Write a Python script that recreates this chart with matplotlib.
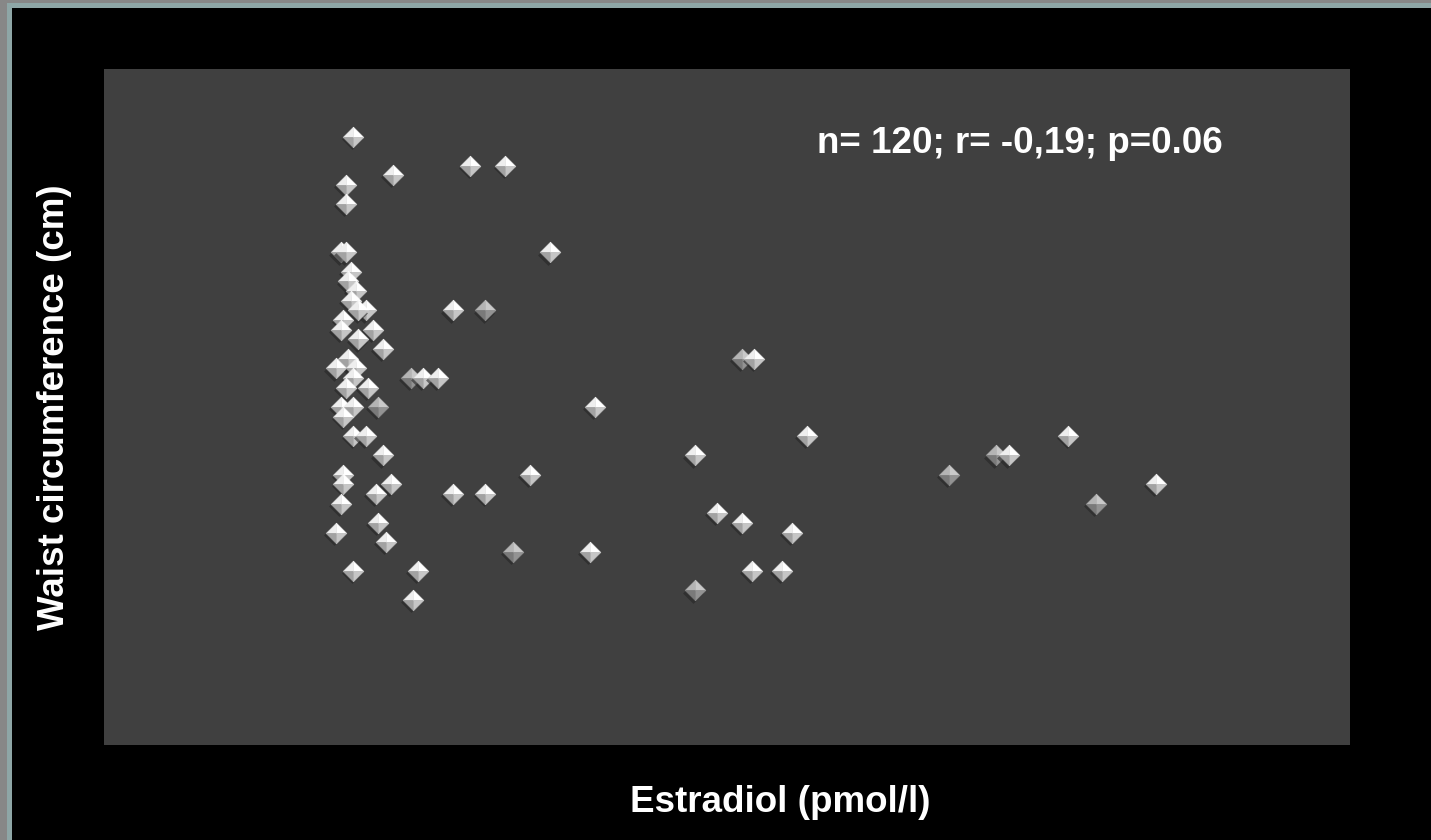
import numpy as np
import matplotlib.pyplot as plt
from matplotlib.path import Path
from matplotlib.patches import Rectangle
from matplotlib.transforms import ScaledTranslation

# Estradiol (pmol/l) vs waist circumference (cm), one entry per visible subject
estradiol = [100, 97, 97, 116, 147, 161, 179, 95, 97, 99,
             98, 101, 99, 105, 102, 96, 95, 108, 102, 112,
             98, 93, 101, 100, 97, 106, 123, 128, 134, 95,
             100, 110, 96, 100, 105, 112, 96, 96, 115, 109,
             95, 110, 93, 113, 100, 126, 124, 140, 153, 140,
             153, 171, 164, 195, 197, 237, 237, 246, 256, 276,
             260, 272, 256, 261, 282, 339, 358, 363, 387, 398,
             422]
waist = [113, 108, 106, 109, 110, 110, 101, 101, 101, 99,
         98, 97, 96, 95, 95, 94, 93, 93, 92, 91,
         90, 89, 89, 88, 87, 87, 88, 88, 88, 85,
         85, 85, 84, 82, 82, 80, 78, 77, 77, 76,
         75, 73, 72, 71, 68, 68, 65, 95, 95, 76,
         76, 78, 70, 70, 85, 80, 66, 74, 73, 72,
         68, 68, 90, 90, 82, 78, 80, 80, 82, 75,
         77]
# subjects drawn with the darker shading
darker = {26, 31, 48, 52, 56, 62, 65, 66, 69}

stat_text = 'n= 120; r= -0,19; p=0.06'

plt.rcParams['font.family'] = ['Liberation Sans', 'DejaVu Sans']

fig = plt.figure(figsize=(14.31, 8.4), dpi=100, facecolor='black')

# frame strips on the left and top edges
fig.patches.append(Rectangle((0, 0), 7 / 1431, 1, transform=fig.transFigure,
                             facecolor='#878787', edgecolor='none', zorder=-5))
fig.patches.append(Rectangle((7 / 1431, 0), 5 / 1431, 1 - 3 / 840, transform=fig.transFigure,
                             facecolor='#8ea6a6', edgecolor='none', zorder=-4))
fig.patches.append(Rectangle((0, 1 - 3 / 840), 1, 3 / 840, transform=fig.transFigure,
                             facecolor='#878787', edgecolor='none', zorder=-5))
fig.patches.append(Rectangle((7 / 1431, 1 - 8 / 840), 1, 5 / 840, transform=fig.transFigure,
                             facecolor='#8ea6a6', edgecolor='none', zorder=-4))

ax = fig.add_axes([104 / 1431, 1 - 745 / 840, 1246 / 1431, 676 / 840])
ax.set_facecolor('#404040')
ax.set_xlim(0, 500)
ax.set_ylim(50, 120)
ax.set_xticks([])
ax.set_yticks([])
for sp in ax.spines.values():
    sp.set_visible(False)

# pyramid-like diamond built from four facets
facets = [
    Path([(0, 0), (-1, 0), (0, 1), (0, 0)]),   # top left
    Path([(0, 0), (0, 1), (1, 0), (0, 0)]),    # top right
    Path([(0, 0), (-1, 0), (0, -1), (0, 0)]),  # bottom left
    Path([(0, 0), (1, 0), (0, -1), (0, 0)]),   # bottom right
]
diamond = Path([(0, 1), (1, 0), (0, -1), (-1, 0), (0, 1)])
light_cols = ['#eeeeee', '#ffffff', '#a2a2a2', '#c6c6c6']
dark_cols = ['#b4b4b4', '#c9c9c9', '#7a7a7a', '#939393']

size = 225
shadow = ax.transData + ScaledTranslation(-1.2 / 72, -1.6 / 72, fig.dpi_scale_trans)

for i, (x, y) in enumerate(zip(estradiol, waist)):
    cols = dark_cols if i in darker else light_cols
    ax.scatter([x], [y], s=size, marker=diamond, color='#262626', alpha=0.6,
               linewidths=0, transform=shadow, zorder=2 + i * 0.01)
    for path, c in zip(facets, cols):
        ax.scatter([x], [y], s=size, marker=path, color=c, linewidths=0.3,
                   edgecolors=c, zorder=2.005 + i * 0.01)

ax.text(0.5722, 0.8905, stat_text, transform=ax.transAxes, ha='left', va='center',
        fontsize=26.5, fontweight='bold', color='white')

fig.text(780 / 1431, 1 - 802 / 840, 'Estradiol (pmol/l)', ha='center', va='center',
         fontsize=26.5, fontweight='bold', color='white')
fig.text(55 / 1431, 1 - 407 / 840, 'Waist circumference (cm)', ha='center', va='center',
         rotation=90, fontsize=26.5, fontweight='bold', color='white')

fig.savefig('out.png', dpi=100, facecolor='black')
